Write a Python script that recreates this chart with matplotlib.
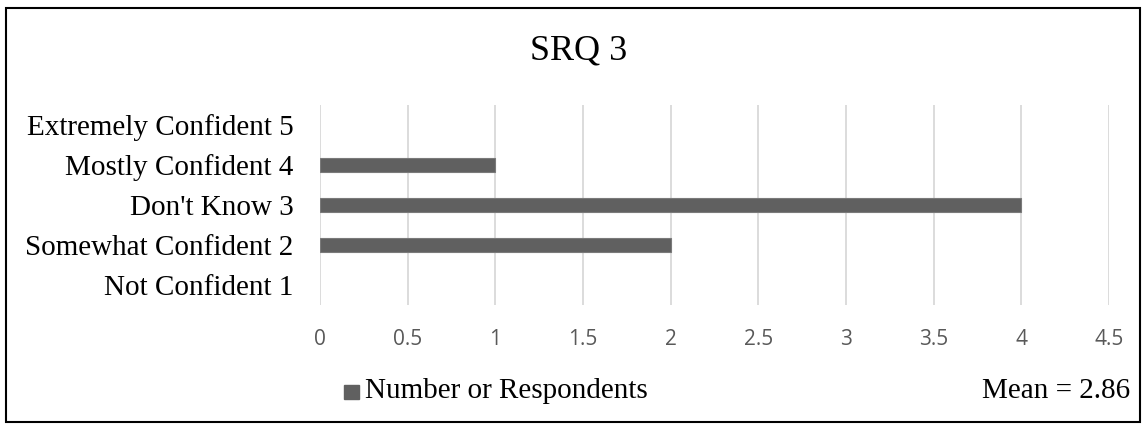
import matplotlib.pyplot as plt
from matplotlib.patches import Rectangle

categories = ["Not Confident 1", "Somewhat Confident 2", "Don't Know 3",
              "Mostly Confident 4", "Extremely Confident 5"]
respondents = [0, 2, 4, 1, 0]
x_ticks = [0, 0.5, 1, 1.5, 2, 2.5, 3, 3.5, 4, 4.5]
x_tick_labels = ["0", "0.5", "1", "1.5", "2", "2.5", "3", "3.5", "4", "4.5"]
title = "SRQ 3"
series_name = "Number or Respondents"
mean_text = "Mean = 2.86"

serif = ["Liberation Serif", "DejaVu Serif"]
bar_color = "#606060"

fig = plt.figure(figsize=(11.46, 4.29), dpi=100)
ax = fig.add_axes([320 / 1146, 1 - 305 / 429, (1109 - 320) / 1146, 200 / 429])

# no outline on empty categories so nothing shows at zero
edge_widths = [0.8 if v else 0 for v in respondents]
ax.barh(range(len(categories)), respondents, height=0.35, color=bar_color,
        edgecolor="#7a7a7a", linewidth=edge_widths, zorder=3)
ax.set_xlim(0, 4.5)
ax.set_ylim(-0.5, len(categories) - 0.5)
ax.set_yticks(range(len(categories)))
ax.set_yticklabels(categories, fontfamily=serif, fontsize=21, color="black")
ax.set_xticks(x_ticks)
ax.set_xticklabels(x_tick_labels, fontfamily="Open Sans", fontsize=15,
                   color="#595959")
ax.tick_params(axis="both", length=0)
ax.tick_params(axis="y", pad=19)
ax.tick_params(axis="x", pad=17)
ax.grid(axis="x", color="#d9d9d9", linewidth=1.3, zorder=0)
for s in ax.spines.values():
    s.set_visible(False)

fig.text(579 / 1146, 1 - 51 / 429, title, fontfamily=serif, fontsize=26,
         ha="center", va="center")

# legend
fig.patches.append(Rectangle((344 / 1146, 1 - 399 / 429), 15 / 1146, 14 / 429,
                             transform=fig.transFigure, color=bar_color))
fig.text(365 / 1146, 1 - 391 / 429, series_name, fontfamily=serif, fontsize=21,
         ha="left", va="center")
fig.text(1130 / 1146, 1 - 391 / 429, mean_text, fontfamily=serif, fontsize=21,
         ha="right", va="center")

# outer border
fig.patches.append(Rectangle((6 / 1146, 1 - 422 / 429), 1134 / 1146, 414 / 429,
                             transform=fig.transFigure, fill=False,
                             edgecolor="black", linewidth=1.5))

fig.savefig("out.png", dpi=100)
